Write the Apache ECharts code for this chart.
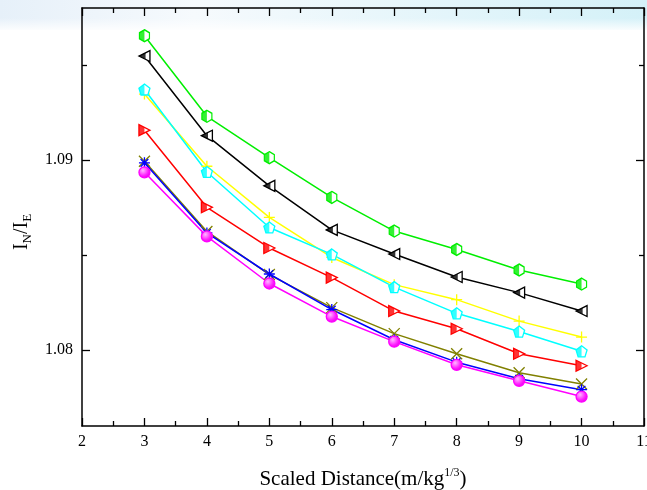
<!DOCTYPE html>
<html>
<head>
<meta charset="utf-8">
<script src="https://cdn.jsdelivr.net/npm/echarts@6/dist/echarts.min.js"></script>
<style>
  html, body { margin: 0; padding: 0; background: #ffffff; }
  #chart { width: 647px; height: 490px; }
</style>
</head>
<body>
<div id="chart"></div>
<script>
// Scaled distance (m/kg^1/3) at which each ratio was evaluated
const distances = [3, 4, 5, 6, 7, 8, 9, 10];

// I_N / I_E ratio for each curve
const greenHex    = [1.09654, 1.09230, 1.09012, 1.08803, 1.08626, 1.08529, 1.08421, 1.08347];
const blackLeft   = [1.09547, 1.09128, 1.08864, 1.08632, 1.08505, 1.08384, 1.08302, 1.08205];
const yellowPlus  = [1.09347, 1.08967, 1.08698, 1.08487, 1.08344, 1.08265, 1.08152, 1.08068];
const cyanPenta   = [1.09371, 1.08937, 1.08645, 1.08503, 1.08331, 1.08193, 1.08097, 1.07993];
const redRight    = [1.09157, 1.08751, 1.08537, 1.08381, 1.08205, 1.08112, 1.07980, 1.07917];
const oliveCross  = [1.08993, 1.08624, 1.08397, 1.08223, 1.08086, 1.07980, 1.07880, 1.07821];
const blueStar    = [1.08985, 1.08616, 1.08400, 1.08213, 1.08054, 1.07936, 1.07849, 1.07791];
const magentaBall = [1.08935, 1.08598, 1.08350, 1.08176, 1.08044, 1.07922, 1.07838, 1.07755];

// Axis ranges and tick positions
const xMin = 2, xMax = 11;
const yMin = 1.076, yMax = 1.098;
const yMajorTicks = [1.08, 1.09];
const yMinorTicks = [1.085, 1.095];

const pair = vals => distances.map((x, i) => [x, vals[i]]);

// Marker outlines
const HEX = 'path://M5 0 L10 2.5 L10 7.5 L5 10 L0 7.5 L0 2.5 Z';
const HEX_HALF = 'path://M5 0 L0 2.5 L0 7.5 L5 10 Z';
const TRI_L = 'path://M0 5 L10 0 L10 10 Z';
const TRI_L_PART = 'path://M0 5 L6 2 L6 8 Z';
const TRI_R = 'path://M0 0 L10 5 L0 10 Z';
const TRI_R_HALF = 'path://M0 0 L5 2.5 L5 7.5 L0 10 Z';
const PENTA = 'path://M5 0 L10 3.8 L8.1 10 L1.9 10 L0 3.8 Z';
const PENTA_HALF = 'path://M5 0 L0 3.8 L1.9 10 L5 10 Z';
const PLUS = 'path://M0 5 L10 5 M5 0 L5 10';
const CROSS = 'path://M0 0 L10 10 M10 0 L0 10';
const STAR = 'path://M0 5 L10 5 M5 0 L5 10 M1.5 1.5 L8.5 8.5 M8.5 1.5 L1.5 8.5';

function curve(name, vals, color, symbol, size, fill, z) {
  return {
    type: 'line', name, data: pair(vals), z,
    symbol, symbolSize: size, showAllSymbol: true,
    lineStyle: { color, width: 1.5 },
    itemStyle: { color: fill, borderColor: color, borderWidth: 1.3 },
    emphasis: { disabled: true }
  };
}
function halfFill(name, vals, color, symbol, size, offset, z) {
  return {
    type: 'scatter', name: name + ' fill', data: pair(vals), z,
    symbol, symbolSize: size, symbolOffset: offset,
    itemStyle: { color },
    emphasis: { disabled: true }
  };
}

const ballFill = {
  type: 'radial', x: 0.38, y: 0.35, r: 0.7,
  colorStops: [{ offset: 0, color: '#ffb8ff' }, { offset: 0.6, color: '#ff22ff' }, { offset: 1, color: '#e000e0' }]
};

const series = [
  curve('green', greenHex, '#00ee00', HEX, [10, 12], '#ffffff', 3),
  halfFill('green', greenHex, '#00ee00', HEX_HALF, [5, 12], [-2.5, 0], 4),
  curve('black', blackLeft, '#000000', TRI_L, [11, 11], '#ffffff', 3),
  halfFill('black', blackLeft, '#000000', TRI_L_PART, [6.6, 6.6], [-2.2, 0], 4),
  curve('yellow', yellowPlus, '#ffff00', PLUS, [11, 11], 'none', 3),
  curve('cyan', cyanPenta, '#00ffff', PENTA, [11, 11], '#ffffff', 3),
  halfFill('cyan', cyanPenta, '#00ffff', PENTA_HALF, [5.5, 11], [-2.75, 0], 4),
  curve('red', redRight, '#ff0000', TRI_R, [11, 11], '#ffffff', 3),
  halfFill('red', redRight, '#ff0000', TRI_R_HALF, [5.5, 11], [-2.75, 0], 4),
  curve('olive', oliveCross, '#808000', CROSS, [11, 11], 'none', 3),
  curve('blue', blueStar, '#0000ff', STAR, [11, 11], 'none', 3),
  curve('magenta', magentaBall, '#ff00ff', 'circle', 11, ballFill, 3)
];
series.forEach(s => { s.xAxisIndex = 0; s.yAxisIndex = 0; });

const axisFont = { fontFamily: 'Liberation Serif', fontSize: 16, color: '#000000' };
const frameLine = { show: true, onZero: false, lineStyle: { color: '#000000', width: 1.5 } };

function xAxisDef(position, labels) {
  return {
    type: 'value', position, min: xMin, max: xMax, interval: 1,
    axisLine: frameLine,
    axisTick: { show: true, inside: true, length: 8, lineStyle: { color: '#000', width: 1.3 } },
    minorTick: { show: true, splitNumber: 2, length: 5, lineStyle: { color: '#000', width: 1.3 } },
    axisLabel: labels ? Object.assign({ show: true, margin: 8 }, axisFont) : { show: false },
    splitLine: { show: false },
    name: labels ? 'Scaled Distance(m/kg{sup|1/3})' : '',
    nameLocation: 'middle', nameGap: 41,
    nameTextStyle: {
      fontFamily: 'Liberation Serif', fontSize: 21, color: '#000',
      rich: { sup: { fontFamily: 'Liberation Serif', fontSize: 12, verticalAlign: 'top', padding: [0, 0, 12, 0] } }
    }
  };
}
function yAxisDef(position, ticks, len, labels, lineShown, name) {
  return {
    type: 'value', position, min: yMin, max: yMax,
    axisLine: lineShown ? frameLine : { show: false },
    axisTick: { show: true, inside: true, length: len, customValues: ticks, lineStyle: { color: '#000', width: 1.3 } },
    axisLabel: labels
      ? Object.assign({ show: true, margin: 9, customValues: ticks, formatter: v => v.toFixed(2) }, axisFont)
      : { show: false },
    splitLine: { show: false },
    name: name || '',
    nameLocation: 'middle', nameGap: 46, nameRotate: 90,
    nameTextStyle: {
      fontFamily: 'Liberation Serif', fontSize: 20, color: '#000',
      padding: [0, 30, 0, 0],
      rich: {
        i: { fontFamily: 'Liberation Serif', fontSize: 20 },
        s: { fontFamily: 'Liberation Serif', fontSize: 13, verticalAlign: 'bottom', padding: [11, 0, 0, 0] }
      }
    }
  };
}

const option = {
  animation: false,
  backgroundColor: '#ffffff',
  grid: { left: 82, top: 8, right: 3, bottom: 64, containLabel: false, outerBoundsMode: 'none' },
  graphic: [
    {
      type: 'rect', z: -10, silent: true,
      shape: { x: 0, y: 0, width: 647, height: 30 },
      style: {
        fill: {
          type: 'linear', x: 0, y: 0, x2: 1, y2: 0,
          colorStops: [
            { offset: 0, color: '#e6f0f9' },
            { offset: 0.3, color: '#f6fafd' },
            { offset: 1, color: '#d4f1f8' }
          ]
        }
      }
    },
    {
      type: 'rect', z: -9, silent: true,
      shape: { x: 0, y: 18, width: 647, height: 14 },
      style: {
        fill: {
          type: 'linear', x: 0, y: 0, x2: 0, y2: 1,
          colorStops: [{ offset: 0, color: 'rgba(255,255,255,0)' }, { offset: 1, color: '#ffffff' }]
        }
      }
    }
  ],
  xAxis: [xAxisDef('bottom', true), xAxisDef('top', false)],
  yAxis: [
    yAxisDef('left', yMajorTicks, 8, true, true, '{i|I}{s|N}{i|/I}{s|E}'),
    yAxisDef('left', yMinorTicks, 5, false, false),
    yAxisDef('right', yMajorTicks, 8, false, true),
    yAxisDef('right', yMinorTicks, 5, false, false)
  ],
  series
};

const chart = echarts.init(document.getElementById('chart'), null, { renderer: 'canvas' });
chart.setOption(option);
</script>
</body>
</html>
